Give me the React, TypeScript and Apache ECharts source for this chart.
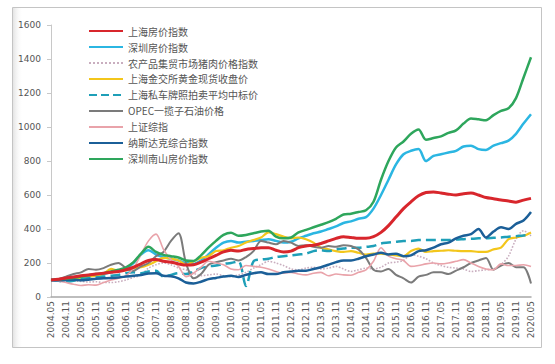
import React, { useEffect, useRef } from "react";
import * as echarts from "echarts";

const years = Array.from({ length: 17 }, (_, k) => 2004 + k);
const monthsQ = ["05", "08", "11", "02"];
// quarterly categories 2004.05 .. 2020.05
const categories: string[] = [];
for (const y of years) {
  for (let q = 0; q < 4; q++) {
    const yy = q === 3 ? y + 1 : y;
    if (categories.length < 65) categories.push(`${yy}.${monthsQ[q]}`);
  }
}

const seriesNames = [
  "上海房价指数",
  "深圳房价指数",
  "农产品集贸市场猪肉价格指数",
  "上海金交所黄金现货收盘价",
  "上海私车牌照拍卖平均中标价",
  "OPEC一揽子石油价格",
  "上证综指",
  "纳斯达克综合指数",
  "深圳南山房价指数",
];

const shHouse = [100,105,112,118,125,130,135,140,145,150,160,175,195,215,220,210,205,195,188,190,205,225,245,265,275,270,280,285,290,290,275,265,270,290,300,305,315,330,345,355,350,345,345,355,380,420,470,520,560,595,615,618,612,605,600,608,612,600,585,578,570,565,558,570,580];
const szHouse = [100,102,105,108,115,120,128,135,145,155,170,200,250,275,250,235,225,215,200,195,215,250,290,320,330,320,325,330,335,340,330,320,325,345,360,375,385,400,415,435,445,460,470,520,600,690,780,840,860,870,800,830,840,850,860,885,890,870,865,890,905,920,960,1020,1075];
const pork = [100,95,98,95,92,88,90,85,85,90,100,115,130,170,190,200,190,170,160,140,125,130,135,125,120,130,145,170,190,210,200,185,165,160,170,175,165,170,180,165,150,160,170,165,175,200,205,215,250,240,225,200,185,175,170,165,150,155,160,165,190,240,340,390,360];
const gold = [100,100,105,110,108,120,125,135,165,155,158,170,175,190,210,230,225,215,190,210,230,240,270,275,290,300,320,335,350,380,370,355,345,350,340,320,290,280,270,265,270,260,250,255,255,250,245,240,270,285,265,270,272,275,272,270,270,265,265,280,290,340,350,360,380];
const plate = [100,95,90,95,105,110,115,120,125,130,140,145,140,150,155,120,130,140,135,150,170,180,185,195,200,210,65,210,220,225,235,240,245,250,255,270,275,270,280,285,290,290,295,300,315,320,325,330,330,335,335,335,335,335,338,340,342,345,345,348,350,355,358,362,365];
const opec = [100,105,120,135,145,165,160,170,190,200,170,155,180,200,240,265,330,375,200,110,135,190,205,215,225,215,235,270,330,320,310,330,320,300,305,295,290,300,295,305,300,280,230,160,150,165,130,110,85,120,130,145,145,135,155,175,200,215,230,160,185,200,175,175,80];
const shIndex = [100,95,85,75,68,72,70,85,100,110,125,170,250,330,370,280,220,180,120,140,175,210,200,190,165,160,185,180,175,165,150,140,145,135,130,140,145,125,135,130,128,145,160,210,290,240,225,215,180,185,195,200,195,200,210,220,200,180,165,160,195,185,185,190,180];
const nasdaq = [100,98,100,102,98,102,108,110,112,115,120,125,130,138,140,125,122,110,85,80,90,105,112,120,125,118,130,140,145,135,135,145,150,155,155,165,175,190,205,215,215,225,240,250,260,250,255,240,245,270,275,290,310,320,345,360,370,400,350,385,410,400,430,450,500];
const nanshan = [100,104,108,112,120,128,135,140,150,160,175,205,255,295,265,248,240,232,215,212,245,290,330,365,378,360,365,375,385,390,355,345,350,380,395,410,425,440,460,485,490,500,510,560,690,800,880,915,960,985,925,935,945,965,980,1020,1050,1045,1040,1070,1095,1110,1170,1290,1410];

const values = [shHouse, szHouse, pork, gold, plate, opec, shIndex, nasdaq, nanshan];
const colors = ["#d8262c", "#2bb6e2", "#c9aebf", "#f3c61b", "#1e9fb8", "#7b7b7b", "#e9a3aa", "#1b5f98", "#2ea65c"];
const widths = [3, 2.5, 1.6, 2.2, 2.5, 2, 1.6, 2.5, 2.5];
const types = ["solid", "solid", "dotted", "solid", "dashed", "solid", "solid", "solid", "solid"];
const yTicks = [0, 200, 400, 600, 800, 1000, 1200, 1400, 1600];

export default function App() {
  const ref = useRef<HTMLDivElement>(null);
  useEffect(() => {
    if (!ref.current) return;
    const chart = echarts.init(ref.current, null, { renderer: "svg" });
    chart.setOption({
      animation: false,
      backgroundColor: "#ffffff",
      textStyle: { fontFamily: "Noto Sans CJK SC" },
      graphic: [
        {
          type: "rect",
          shape: { x: 12.5, y: 7.5, width: 529, height: 340 },
          style: { fill: "none", stroke: "#c4c4c4", lineWidth: 1 },
          silent: true,
        },
        {
          type: "rect",
          shape: { x: 13, y: 8, width: 10, height: 339 },
          style: {
            fill: new echarts.graphic.LinearGradient(0, 0, 1, 0, [
              { offset: 0, color: "rgba(200,200,200,0.5)" },
              { offset: 1, color: "rgba(255,255,255,0)" },
            ]),
          },
          silent: true,
        },
      ],
      legend: {
        orient: "vertical",
        left: 83,
        top: 21,
        itemWidth: 34,
        itemHeight: 12,
        itemGap: 6,
        data: seriesNames,
        itemStyle: { opacity: 0 },
        textStyle: { fontSize: 10, color: "#555555", fontFamily: "Noto Sans CJK SC" },
      },
      grid: { left: 51, right: 24, top: 25, bottom: 67 },
      xAxis: {
        type: "category",
        data: categories,
        boundaryGap: false,
        axisLine: { lineStyle: { color: "#a8a8a8", width: 1.5 } },
        axisTick: { show: false },
        axisLabel: {
          interval: 1,
          rotate: 90,
          fontSize: 9,
          color: "#555555",
          margin: 4,
          fontFamily: "DejaVu Sans",
        },
      },
      yAxis: {
        type: "value",
        min: yTicks[0],
        max: yTicks[yTicks.length - 1],
        interval: 200,
        splitLine: { show: false },
        axisLine: { show: true, lineStyle: { color: "#c8c8c8" } },
        axisTick: { show: true, inside: false, length: 4, lineStyle: { color: "#c8c8c8" } },
        axisLabel: {
          fontSize: 9,
          color: "#555555",
          margin: 10,
          fontFamily: "DejaVu Sans",
          formatter: (v: number) => String(v),
        },
      },
      series: seriesNames.map((name, k) => ({
        name,
        type: "line",
        data: values[k],
        symbol: "none",
        smooth: 0.3,
        color: colors[k],
        lineStyle: { color: colors[k], width: widths[k], type: types[k] },
        z: k === 0 ? 5 : 2,
      })),
    });
    return () => chart.dispose();
  }, []);
  return (
    <div
      ref={ref}
      style={{ position: "fixed", left: 0, top: 0, width: 555, height: 364 }}
    />
  );
}
